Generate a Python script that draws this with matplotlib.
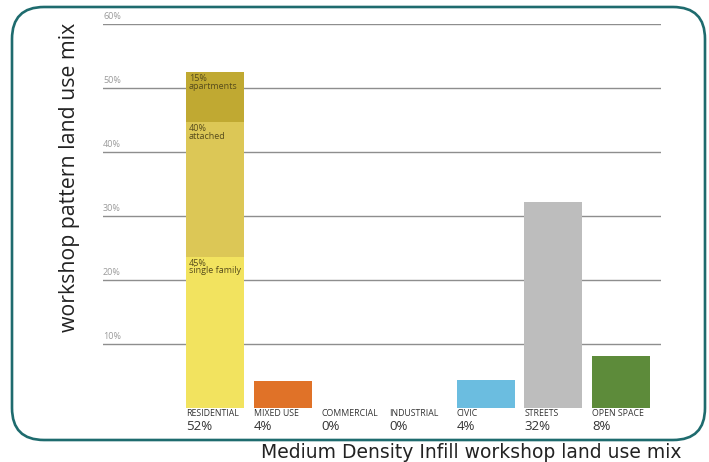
import matplotlib
import matplotlib.pyplot as plt
from matplotlib.patches import FancyBboxPatch

matplotlib.use('Agg')

# land use categories and their share of the total (percent)
categories = ['RESIDENTIAL', 'MIXED USE', 'COMMERCIAL', 'INDUSTRIAL', 'CIVIC', 'STREETS', 'OPEN SPACE']
pct_labels = ['52%', '4%', '0%', '0%', '4%', '32%', '8%']
values = [52.5, 4.2, 0, 0, 4.4, 32.2, 8.1]
bar_colors = ['#f2e35f', '#e07228', '#ffffff', '#ffffff', '#6bbde0', '#bdbdbd', '#5d8b3a']

# residential split (share of residential)
res_parts = ['single family', 'attached', 'apartments']
res_shares = [45, 40, 15]
res_colors = ['#f2e35f', '#dcc756', '#c0a932']

grid_ticks = [10, 20, 30, 40, 50, 60]

fig = plt.figure(figsize=(7.09, 4.62), dpi=100)
W, H = 709, 462
ax = fig.add_axes([103 / W, (H - 408) / H, 558 / W, 384 / H])
ax.set_ylim(0, 60)
ax.set_xlim(-1.654, 6.59)
ax.axis('off')

for t in grid_ticks:
    ax.axhline(t, color='#8e8e8e', lw=1, zorder=1)
    ax.text(-1.654, t + 0.4, f'{t}%', fontsize=6.5, color='#9a9a9a',
            ha='left', va='bottom', family='Open Sans')

width = 0.857
xs = list(range(len(categories)))

# residential stacked bar
bottom = 0
for part, share, col in zip(res_parts, res_shares, res_colors):
    h = values[0] * share / 100
    ax.bar(0, h, width=width, bottom=bottom, color=col, zorder=2)
    ax.text(-width / 2 + 0.04, bottom + h - 0.3, f'{share}%\n{part}', fontsize=6.5,
            color='#574c1c', ha='left', va='top', linespacing=0.8,
            family='Open Sans', zorder=3)
    bottom += h

for x, v, col in zip(xs[1:], values[1:], bar_colors[1:]):
    if v > 0:
        ax.bar(x, v, width=width, color=col, zorder=2)

for x, cat, pl in zip(xs, categories, pct_labels):
    ax.text(x - width / 2, -0.2, cat, fontsize=6.3, color='#333333',
            ha='left', va='top', family='Open Sans')
    ax.text(x - width / 2, -1.9, pl, fontsize=9.5, color='#333333',
            ha='left', va='top', family='Open Sans')

# rounded frame
frame = FancyBboxPatch((0.12, 0.22), 6.93, 4.33, boxstyle='round,pad=0,rounding_size=0.32',
                       transform=fig.dpi_scale_trans, fill=False,
                       edgecolor='#1e6b6e', lw=1.9)
fig.patches.append(frame)

fig.text(70 / W, 1 - 177 / H, 'workshop pattern land use mix', rotation=90,
         fontsize=15.3, color='#222222', ha='center', va='center', family='Open Sans')
fig.text(471 / W, 1 - 452 / H, 'Medium Density Infill workshop land use mix',
         fontsize=13.5, color='#222222', ha='center', va='center', family='DejaVu Sans')

fig.savefig('out.png', dpi=100)
